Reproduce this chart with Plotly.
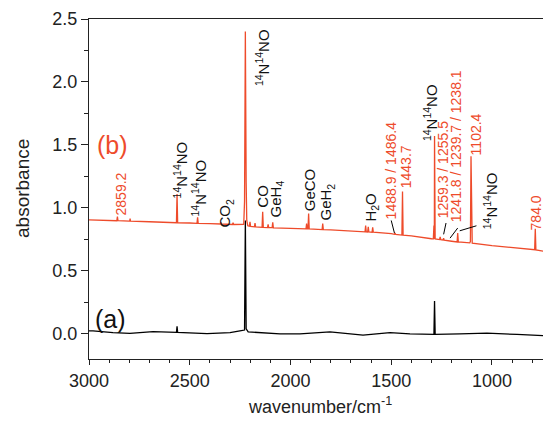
import plotly.graph_objects as go

# ---- data ----
# spectrum (b): wavenumber / absorbance (baseline nodes + narrow peaks)
red_wn = [3000, 2900, 2862, 2859, 2856, 2800, 2798, 2796, 2794, 2700, 2600,
          2566, 2563, 2560, 2500, 2464, 2461, 2458, 2400, 2348, 2345, 2342,
          2288, 2285, 2282, 2240, 2232, 2228, 2224, 2220, 2217, 2212,
          2204, 2201, 2198, 2179, 2176, 2173, 2141, 2138, 2135, 2114, 2111,
          2108, 2091, 2088, 2085, 2000, 1923, 1920, 1917, 1913, 1910, 1907,
          1900, 1843, 1840, 1837, 1800, 1700, 1630, 1627, 1624, 1617, 1614,
          1611, 1595, 1592, 1589, 1500, 1484, 1481, 1478, 1447, 1444, 1441,
          1400, 1300, 1291, 1288, 1286, 1285, 1282, 1260, 1257, 1254, 1243,
          1240, 1237, 1200, 1173, 1170, 1167, 1110, 1107, 1104, 1101, 1098,
          1000, 900, 800, 788, 785, 782, 707]
red_abs = [0.905, 0.900, 0.898, 0.930, 0.898, 0.895, 0.895, 0.915, 0.895, 0.890, 0.885,
           0.882, 1.110, 0.882, 0.880, 0.877, 0.925, 0.877, 0.875, 0.872, 0.885, 0.872,
           0.868, 0.882, 0.868, 0.865, 0.870, 1.050, 2.400, 1.200, 0.900, 0.858,
           0.855, 0.890, 0.853, 0.850, 0.880, 0.850, 0.846, 0.970, 0.846, 0.844, 0.870,
           0.844, 0.843, 0.885, 0.842, 0.838, 0.834, 0.875, 0.834, 0.834, 0.955, 0.834,
           0.833, 0.827, 0.875, 0.827, 0.826, 0.818, 0.810, 0.860, 0.810, 0.809, 0.850,
           0.809, 0.807, 0.845, 0.807, 0.795, 0.790, 0.800, 0.790, 0.784, 1.130, 0.784,
           0.778, 0.755, 0.754, 0.860, 0.753, 1.570, 0.753, 0.748, 0.770, 0.747, 0.745,
           0.760, 0.744, 0.735, 0.729, 0.800, 0.729, 0.722, 0.735, 1.410, 0.740, 0.720,
           0.700, 0.685, 0.670, 0.668, 0.835, 0.666, 0.645]

# spectrum (a)
blk_wn = [3000, 2980, 2881, 2797, 2682, 2566, 2563, 2560, 2414, 2300, 2251,
          2228, 2224, 2220, 2210, 2168, 2052, 1953, 1804, 1640, 1506, 1407,
          1293, 1288, 1285, 1282, 1159, 1025, 876, 727, 710]
blk_abs = [0.024, 0.024, 0.010, 0.003, 0.018, 0.012, 0.060, 0.012, 0.002, 0.010, 0.024,
           0.030, 0.900, 0.040, 0.015, 0.010, 0.000, 0.000, 0.015, -0.010, 0.010, 0.000,
           -0.005, -0.004, 0.260, -0.004, 0.000, 0.005, -0.005, -0.015, 0.000]

# black species labels: (text, wavenumber, absorbance)
blk_labels = [
    ("<sup>14</sup>N<sup>14</sup>NO", 2548, 1.298),
    ("<sup>14</sup>N<sup>14</sup>NO", 2454, 1.154),
    ("CO<sub>2</sub>", 2320, 0.955),
    ("CO", 2141, 1.09),
    ("GeH<sub>4</sub>", 2072, 1.075),
    ("GeCO", 1908, 1.14),
    ("GeH<sub>2</sub>", 1819, 1.05),
    ("H<sub>2</sub>O", 1600, 1.003),
    ("<sup>14</sup>N<sup>14</sup>NO", 2141, 2.19),
    ("<sup>14</sup>N<sup>14</sup>NO", 1308, 1.76),
    ("<sup>14</sup>N<sup>14</sup>NO", 1010, 1.06),
]
# red band positions labels
red_labels = [
    ("2859.2", 2841, 1.107),
    ("1488.9 / 1486.4", 1501, 1.298),
    ("1443.7", 1427, 1.33),
    ("1259.3 / 1255.5", 1243, 1.306),
    ("1241.8 / 1239.7 / 1238.1", 1179, 1.489),
    ("1102.4", 1079, 1.584),
    ("784.0", 782, 0.963),
]
# leader lines: (x0, y0, x1, y1) in data units
leaders = [
    (1500, 0.90, 1484, 0.80),
    (1228, 0.88, 1240, 0.79),
    (1170, 0.84, 1208, 0.76),
    (1077, 0.858, 1160, 0.818),
]

RED = "#EE4B2B"
FONT = "Arial, Liberation Sans, Helvetica, sans-serif"

fig = go.Figure()
fig.add_trace(go.Scatter(x=blk_wn, y=blk_abs, mode="lines",
                         line=dict(color="black", width=1.3), showlegend=False))
fig.add_trace(go.Scatter(x=red_wn, y=red_abs, mode="lines",
                         line=dict(color=RED, width=1.3), showlegend=False))

annotations = []
for t, x, y in blk_labels:
    annotations.append(dict(x=x, y=y, text=t, textangle=-90, showarrow=False,
                            xanchor="center", yanchor="middle",
                            font=dict(family=FONT, size=15, color="#111")))
for t, x, y in red_labels:
    annotations.append(dict(x=x, y=y, text=t, textangle=-90, showarrow=False,
                            xanchor="center", yanchor="middle",
                            font=dict(family=FONT, size=14, color=RED)))
annotations.append(dict(x=2881, y=1.497, text="(b)", showarrow=False,
                        xanchor="center", yanchor="middle",
                        font=dict(family=FONT, size=25, color=RED)))
annotations.append(dict(x=2891, y=0.12, text="(a)", showarrow=False,
                        xanchor="center", yanchor="middle",
                        font=dict(family=FONT, size=25, color="#111")))
# axis titles
annotations.append(dict(x=0.5, y=0, xref="paper", yref="paper", yshift=-46,
                        text="wavenumber/cm<sup>-1</sup>", showarrow=False,
                        xanchor="center", yanchor="middle",
                        font=dict(family=FONT, size=18, color="#222")))
annotations.append(dict(x=0, y=0.5, xref="paper", yref="paper", xshift=-67,
                        text="absorbance", textangle=-90, showarrow=False,
                        xanchor="center", yanchor="middle",
                        font=dict(family=FONT, size=19, color="#222")))

shapes = [dict(type="line", x0=a, y0=b, x1=c, y1=d, xref="x", yref="y",
               line=dict(color="black", width=1)) for a, b, c, d in leaders]

# the page body has an 8px margin, so the figure is sized to fit the 551x424 window
fig.update_layout(
    width=543, height=408,
    margin=dict(l=81, r=0, t=11, b=57, autoexpand=False),
    paper_bgcolor="white", plot_bgcolor="white",
    font=dict(family=FONT, size=18, color="#222"),
    annotations=annotations, shapes=shapes,
    xaxis=dict(range=[3000, 707], showline=True, linecolor="#222", linewidth=1.2,
               mirror=True, ticks="outside", ticklen=5, tickcolor="#222",
               tick0=0, dtick=500, showgrid=False, zeroline=False, automargin=False,
               minor=dict(dtick=100, ticks="outside", ticklen=3, tickcolor="#222"),
               tickfont=dict(size=18)),
    yaxis=dict(range=[-0.2, 2.5], showline=True, linecolor="#222", linewidth=1.2,
               ticks="outside", ticklen=7, tickcolor="#222",
               tick0=0, dtick=0.5, tickformat=".1f", showgrid=False, zeroline=False,
               automargin=False,
               minor=dict(dtick=0.25, ticks="outside", ticklen=4, tickcolor="#222"),
               tickfont=dict(size=18)),
)

fig.write_html("out.html")
